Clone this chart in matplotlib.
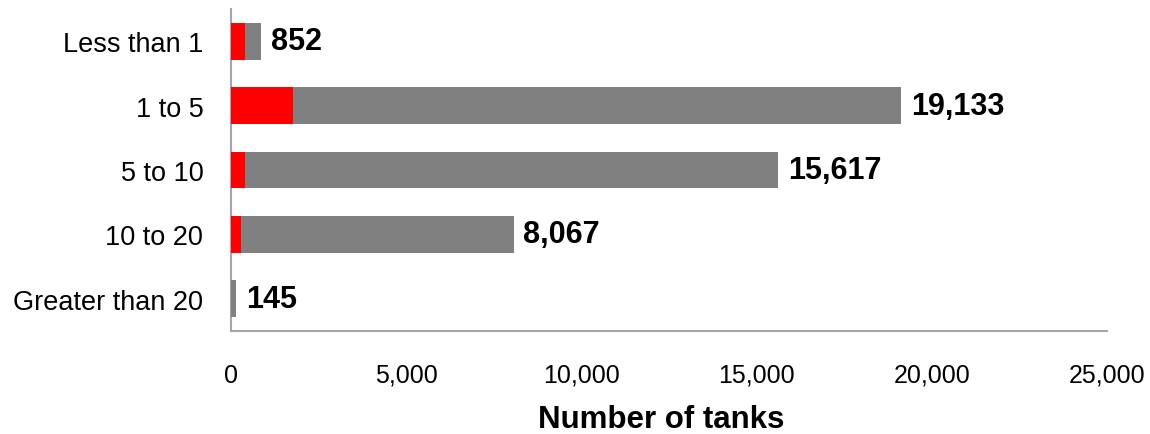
import matplotlib
matplotlib.use("Agg")
import matplotlib.pyplot as plt
from matplotlib.ticker import FuncFormatter

plt.rcParams['font.family'] = ['Liberation Sans', 'DejaVu Sans']

# Tank counts by size class
categories = ['Less than 1', '1 to 5', '5 to 10', '10 to 20', 'Greater than 20']
totals = [852, 19133, 15617, 8067, 145]
red_part = [400, 1770, 390, 295, 0]
gray_part = [t - r for t, r in zip(totals, red_part)]

fig = plt.figure(figsize=(11.5, 4.35), dpi=100)
ax = fig.add_axes([0.2009, 0.2368, 0.7617, 0.7402])

y = list(range(len(categories)))
ax.barh(y, red_part, height=0.57, color='#FF0000', zorder=3)
ax.barh(y, gray_part, left=red_part, height=0.57, color='#808080', zorder=3)

# total labels at the end of each bar
for yi, t in zip(y, totals):
    ax.annotate(f'{t:,}', xy=(t, yi), xytext=(7, 0), textcoords='offset points',
                ha='left', va='center', fontsize=22, fontweight='bold')

ax.set_ylim(len(categories) - 0.5, -0.5)
ax.set_xlim(0, 25000)
ax.set_xticks(range(0, 25001, 5000))
ax.xaxis.set_major_formatter(FuncFormatter(lambda v, p: f'{int(v):,}'))
ax.set_yticks(y)
ax.set_yticklabels(categories, fontsize=19.5)
ax.tick_params(axis='x', length=0, pad=23, labelsize=18)
ax.tick_params(axis='y', length=0, pad=20)
ax.set_xlabel('Number of tanks', fontsize=22.5, fontweight='bold')
ax.xaxis.set_label_coords(0.491, -0.228)

for side in ['top', 'right']:
    ax.spines[side].set_visible(False)
for side in ['left', 'bottom']:
    ax.spines[side].set_color('#A6A6A6')
    ax.spines[side].set_linewidth(1.5)

fig.savefig('out.png', dpi=100)
